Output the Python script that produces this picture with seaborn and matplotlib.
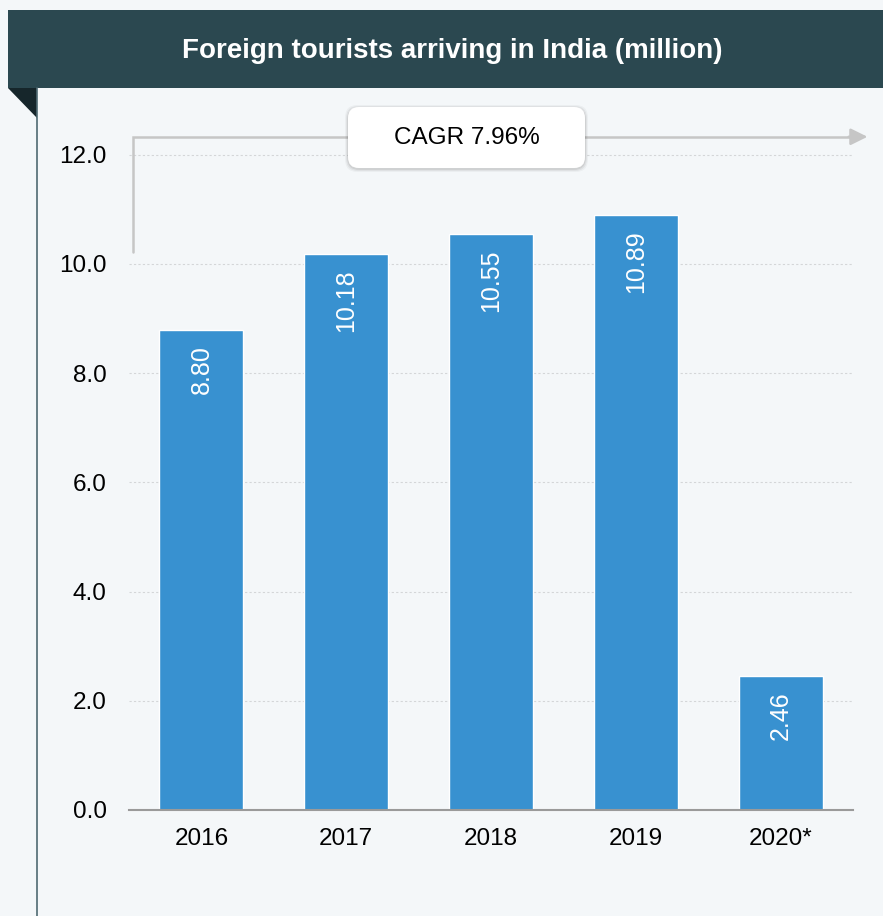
import matplotlib
matplotlib.use("Agg")
import matplotlib.pyplot as plt
import seaborn as sns
from matplotlib.patches import Rectangle, Polygon, FancyBboxPatch
from matplotlib.lines import Line2D

years = ["2016", "2017", "2018", "2019", "2020*"]
arrivals = [8.80, 10.18, 10.55, 10.89, 2.46]
yticks = [0.0, 2.0, 4.0, 6.0, 8.0, 10.0, 12.0]
title = "Foreign tourists arriving in India (million)"
cagr_text = "CAGR 7.96%"

W, H = 883, 916
bg = "#f4f7f9"
bar_color = "#3891d0"

sns.set_theme(style="white")
plt.rcParams["font.family"] = ["Liberation Sans", "DejaVu Sans"]

fig = plt.figure(figsize=(W / 100, H / 100), dpi=100)
fig.patch.set_facecolor(bg)


def fx(px):
    return px / W


def fy(py):
    return 1 - py / H


# header banner + fold + left rule
fig.patches.append(Rectangle((fx(8), fy(88)), fx(W - 8), fy(10) - fy(88),
                             transform=fig.transFigure, facecolor="#2b4850", edgecolor="none"))
fig.patches.append(Polygon([(fx(8), fy(88)), (fx(37), fy(88)), (fx(37), fy(118))],
                           closed=True, transform=fig.transFigure, facecolor="#16262b", edgecolor="none"))
fig.lines.append(Line2D([fx(37), fx(37)], [fy(88), 0], transform=fig.transFigure,
                        color="#4f6a72", lw=1.2))
fig.text(fx(452), fy(51), title, color="white", fontsize=20, fontweight="bold",
         ha="center", va="center")

ax = fig.add_axes([fx(129), fy(810), fx(853) - fx(129), (810 - 127.5) / H])
ax.set_facecolor(bg)

sns.barplot(x=years, y=arrivals, color=bar_color, width=0.58, saturation=1, ax=ax)

ax.set_ylim(0, 12.5)
ax.set_xlim(-0.5, len(years) - 0.5)
ax.set_yticks(yticks)
ax.set_yticklabels([f"{v:.1f}" for v in yticks])
ax.yaxis.grid(True, linestyle=(0, (2, 2)), color="#d4d6d8", lw=0.8)
ax.set_axisbelow(True)
for s in ["left", "right", "top"]:
    ax.spines[s].set_visible(False)
ax.spines["bottom"].set_color("#9a9a9a")
ax.spines["bottom"].set_linewidth(1.5)

ax.tick_params(axis="y", length=0, pad=16, labelsize=17.5, labelcolor="black")
ax.tick_params(axis="x", which="major", length=0, pad=13, labelsize=17.5, labelcolor="black")
ax.set_xticks([i - 0.5 for i in range(len(years) + 1)], minor=True)
ax.tick_params(axis="x", which="minor", length=7, width=1.3, color="#9a9a9a", direction="out")
ax.set_xlabel("")
ax.set_ylabel("")

# value labels inside the bars
for i, v in enumerate(arrivals):
    ax.text(i, v - 0.28, f"{v:.2f}", rotation=90, ha="center", va="top",
            color="white", fontsize=18)

# CAGR arrow
ax.plot([-0.472, -0.472, 4.5], [10.22, 12.33, 12.33], color="#c6c6c6", lw=1.8,
        clip_on=False, solid_joinstyle="miter", zorder=3)
ax.annotate("", xy=(4.6, 12.33), xytext=(4.47, 12.33),
            arrowprops=dict(arrowstyle="-|>,head_length=0.85,head_width=0.42",
                            color="#c6c6c6", lw=1.8, shrinkA=0, shrinkB=0),
            annotation_clip=False)

# CAGR box with soft shadow
bx0, by0, bw, bh = 348, 107, 237, 61
for off, a in [(3, 0.035), (2, 0.05), (1, 0.07)]:
    fig.patches.append(FancyBboxPatch((fx(bx0 - off), fy(by0 + bh + off + 1)), fx(bw + 2 * off),
                                      (bh + 2 * off) / H,
                                      boxstyle="round,pad=0,rounding_size=0.014",
                                      transform=fig.transFigure, facecolor="black",
                                      alpha=a, edgecolor="none", zorder=4))
fig.patches.append(FancyBboxPatch((fx(bx0), fy(by0 + bh)), fx(bw), bh / H,
                                  boxstyle="round,pad=0,rounding_size=0.012",
                                  transform=fig.transFigure, facecolor="white",
                                  edgecolor="none", zorder=5))
fig.text(fx(bx0 + bw / 2), fy(by0 + bh / 2), cagr_text, fontsize=17.5, color="black",
         ha="center", va="center", zorder=6)

fig.savefig("out.png", dpi=100, facecolor=bg)
